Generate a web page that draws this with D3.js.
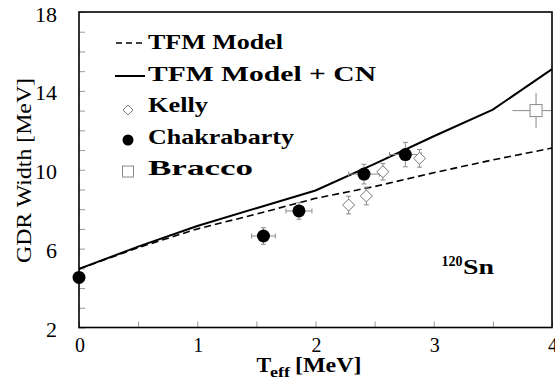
<!DOCTYPE html>
<html>
<head>
<meta charset="utf-8">
<script src="https://cdn.jsdelivr.net/npm/d3@7/dist/d3.min.js"></script>
<style>
  html, body { margin: 0; padding: 0; background: #fff; }
  svg { display: block; }
</style>
</head>
<body>
<svg id="chart" width="555" height="383" font-family="Liberation Serif, serif"></svg>
<script>
// Model curves: GDR width vs effective temperature
const modelT = [0, 0.5, 1, 1.5, 2, 2.5, 3, 3.5, 4];
const tfmWidth = [4.97, 6.05, 7.0, 7.75, 8.55, 9.15, 9.85, 10.5, 11.1];
const tfmCnWidth = [4.97, 6.1, 7.15, 8.05, 8.95, 10.3, 11.7, 13.05, 15.1];

// Measurements
const kellyT = [2.28, 2.43, 2.57, 2.88];
const kellyW = [8.21, 8.67, 9.9, 10.58];
const kellyWErr = [0.45, 0.45, 0.42, 0.45];

const chakT = [0, 1.56, 1.86, 2.41, 2.76];
const chakW = [4.54, 6.64, 7.91, 9.78, 10.77];
const chakTErr = [0, 0.1, 0.11, 0.13, 0.134];
const chakWErr = [0, 0.42, 0.42, 0.5, 0.62];

const braccoT = [3.865];
const braccoW = [13.0];
const braccoTErr = [0.2];
const braccoWErr = [0.9];

// Axis ticks
const xTickValues = [0, 0.5, 1, 1.5, 2, 2.5, 3, 3.5, 4];
const xTickLabels = ["0", "", "1", "", "2", "", "3", "", "4"];
const yTickValues = [2, 3, 4, 5, 6, 7, 8, 9, 10, 11, 12, 13, 14, 15, 16, 17, 18];
const yTickLabels = ["2", "6", "10", "14", "18"];

const legendLabels = ["TFM Model", "TFM Model + CN", "Kelly", "Chakrabarty", "Bracco"];

const svg = d3.select("#chart");
const L = 79, R = 552, T = 12, B = 327.5;
const x = d3.scaleLinear().domain([0, 4]).range([L, R]);
const y = d3.scaleLinear().domain([2, 18]).range([B, T]);

const errColor = "#8a8a8a";

// Tick marks (inward)
const xAxis = d3.axisBottom(x).tickValues(xTickValues).tickSize(-6).tickFormat("");
const yAxis = d3.axisLeft(y).tickValues(yTickValues).tickSize(-6).tickFormat("");
const gx = svg.append("g").attr("transform", `translate(0,${B})`).call(xAxis);
const gy = svg.append("g").attr("transform", `translate(${L},0)`).call(yAxis);
[gx, gy].forEach(g => {
  g.attr("font-family", null);
  g.select(".domain").remove();
  g.selectAll(".tick line").attr("stroke", "#999").attr("stroke-width", 1);
});

// Tick labels
svg.append("g").selectAll("text")
  .data(xTickValues.map((v, i) => ({ v, s: xTickLabels[i] })).filter(d => d.s))
  .join("text")
  .attr("x", d => x(d.v) + 1)
  .attr("y", 352)
  .attr("text-anchor", "middle")
  .attr("font-size", 20)
  .text(d => d.s);

svg.append("g").selectAll("text")
  .data(yTickLabels)
  .join("text")
  .attr("x", 57)
  .attr("y", d => y(+d) + 9.5)
  .attr("text-anchor", "end")
  .attr("font-size", 20)
  .attr("textLength", d => d.length * 11)
  .attr("lengthAdjust", "spacingAndGlyphs")
  .text(d => d);

// Axis titles
svg.append("text")
  .attr("transform", "translate(31,170.5) rotate(-90)")
  .attr("text-anchor", "middle")
  .attr("font-size", 21)
  .attr("textLength", 185)
  .attr("lengthAdjust", "spacingAndGlyphs")
  .text("GDR Width [MeV]");

const xt = svg.append("g").attr("font-weight", "bold");
xt.append("text").attr("x", 256.5).attr("y", 371.5).attr("font-size", 22).text("T");
xt.append("text").attr("x", 270).attr("y", 377).attr("font-size", 15)
  .attr("textLength", 20).attr("lengthAdjust", "spacingAndGlyphs").text("eff");
xt.append("text").attr("x", 295).attr("y", 371.5).attr("font-size", 22)
  .attr("textLength", 66.5).attr("lengthAdjust", "spacingAndGlyphs").text("[MeV]");

// Model curves
const line = d3.line().x(d => x(d[0])).y(d => y(d[1]));
svg.append("path")
  .datum(modelT.map((t, i) => [t, tfmWidth[i]]))
  .attr("d", line).attr("fill", "none")
  .attr("stroke", "#000").attr("stroke-width", 1.6).attr("stroke-dasharray", "7,4");
svg.append("path")
  .datum(modelT.map((t, i) => [t, tfmCnWidth[i]]))
  .attr("d", line).attr("fill", "none")
  .attr("stroke", "#000").attr("stroke-width", 2);

// Clip region for error bars
svg.append("clipPath").attr("id", "plotClip")
  .append("rect").attr("x", L).attr("y", T).attr("width", R - L).attr("height", B - T);

const eb = svg.append("g").attr("clip-path", "url(#plotClip)")
  .attr("stroke", errColor).attr("stroke-width", 1).attr("fill", "none");

function errorBars(ts, ws, tErr, wErr, cap) {
  ts.forEach((t, i) => {
    const cx = x(t), cy = y(ws[i]);
    const dw = wErr ? wErr[i] : 0, dt = tErr ? tErr[i] : 0;
    if (dw > 0) {
      const y0 = y(ws[i] - dw), y1 = y(ws[i] + dw);
      eb.append("line").attr("x1", cx).attr("x2", cx).attr("y1", y0).attr("y2", y1);
      if (cap) {
        eb.append("line").attr("x1", cx - cap).attr("x2", cx + cap).attr("y1", y0).attr("y2", y0);
        eb.append("line").attr("x1", cx - cap).attr("x2", cx + cap).attr("y1", y1).attr("y2", y1);
      }
    }
    if (dt > 0) {
      const x0 = x(t - dt), x1 = x(t + dt);
      eb.append("line").attr("x1", x0).attr("x2", x1).attr("y1", cy).attr("y2", cy);
      if (cap) {
        eb.append("line").attr("x1", x0).attr("x2", x0).attr("y1", cy - cap).attr("y2", cy + cap);
        eb.append("line").attr("x1", x1).attr("x2", x1).attr("y1", cy - cap).attr("y2", cy + cap);
      }
    }
  });
}
errorBars(kellyT, kellyW, null, kellyWErr, 2.5);
errorBars(chakT, chakW, chakTErr, chakWErr, 2.5);
errorBars(braccoT, braccoW, braccoTErr, braccoWErr, 0);

// Markers
const diamond = s => `M0,${-s}L${s},0L0,${s}L${-s},0Z`;
svg.append("g").selectAll("path")
  .data(kellyT.map((t, i) => [t, kellyW[i]]))
  .join("path")
  .attr("transform", d => `translate(${x(d[0])},${y(d[1])})`)
  .attr("d", diamond(6))
  .attr("fill", "#fff").attr("stroke", "#777").attr("stroke-width", 1);

svg.append("g").selectAll("circle")
  .data(chakT.map((t, i) => [t, chakW[i]]))
  .join("circle")
  .attr("cx", d => x(d[0])).attr("cy", d => y(d[1])).attr("r", 6.5)
  .attr("fill", "#000");

svg.append("g").selectAll("rect")
  .data(braccoT.map((t, i) => [t, braccoW[i]]))
  .join("rect")
  .attr("x", d => x(d[0]) - 6).attr("y", d => y(d[1]) - 6)
  .attr("width", 12).attr("height", 12)
  .attr("fill", "#fff").attr("stroke", "#888").attr("stroke-width", 1);

// Frame
svg.append("rect")
  .attr("x", L).attr("y", T).attr("width", R - L).attr("height", B - T)
  .attr("fill", "none").attr("stroke", "#000").attr("stroke-width", 1.6);

// Legend
const legendBase = [49, 80.5, 112, 143.5, 175];
const legendWidths = [135, 228, 60, 146, 105];
const lg = svg.append("g");
lg.selectAll("text")
  .data(legendLabels)
  .join("text")
  .attr("x", 148)
  .attr("y", (d, i) => legendBase[i])
  .attr("font-size", 21)
  .attr("font-weight", "bold")
  .attr("textLength", (d, i) => legendWidths[i])
  .attr("lengthAdjust", "spacingAndGlyphs")
  .text(d => d);

lg.append("line").attr("x1", 116).attr("x2", 145)
  .attr("y1", legendBase[0] - 6).attr("y2", legendBase[0] - 6)
  .attr("stroke", "#000").attr("stroke-width", 1.4).attr("stroke-dasharray", "6,4");
lg.append("line").attr("x1", 115).attr("x2", 145)
  .attr("y1", legendBase[1] - 4.5).attr("y2", legendBase[1] - 4.5)
  .attr("stroke", "#000").attr("stroke-width", 2);
lg.append("path")
  .attr("transform", `translate(128,${legendBase[2] - 2})`)
  .attr("d", diamond(5))
  .attr("fill", "#fff").attr("stroke", "#777").attr("stroke-width", 1);
lg.append("circle").attr("cx", 128).attr("cy", legendBase[3] - 3.5).attr("r", 5.5).attr("fill", "#000");
lg.append("rect").attr("x", 122.5).attr("y", legendBase[4] - 9).attr("width", 11).attr("height", 11)
  .attr("fill", "#fff").attr("stroke", "#888").attr("stroke-width", 1);

// Nucleus label
const nl = svg.append("g").attr("font-weight", "bold");
nl.append("text").attr("x", 441.5).attr("y", 265.5).attr("font-size", 14)
  .attr("textLength", 21).attr("lengthAdjust", "spacingAndGlyphs").text("120");
nl.append("text").attr("x", 463).attr("y", 273.5).attr("font-size", 21)
  .attr("textLength", 31).attr("lengthAdjust", "spacingAndGlyphs").text("Sn");
</script>
</body>
</html>
